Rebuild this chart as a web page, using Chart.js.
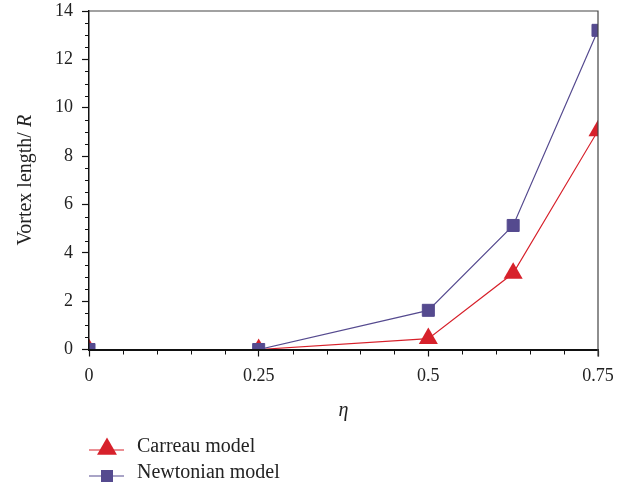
<!DOCTYPE html>
<html>
<head>
<meta charset="utf-8">
<script src="https://cdn.jsdelivr.net/npm/chart.js@4.4.0/dist/chart.umd.min.js"></script>
<style>
  html, body { margin: 0; padding: 0; background: #fff; }
  #wrap { width: 634px; height: 487px; }
</style>
</head>
<body>
<div id="wrap"><canvas id="chart" width="634" height="487"></canvas></div>
<script>
// values
const etaValues = [0, 0.25, 0.5, 0.625, 0.75]
const carreauLength = [0, 0, 0.45, 3.15, 9.05]
const newtonianLength = [0, 0, 1.62, 5.13, 13.2]
const seriesNames = ['Carreau model', 'Newtonian model']
const xTickLabels = ['0', '0.25', '0.5', '0.75']

const red = '#d7212b'
const purple = '#554a8f'
const serif = "'Liberation Serif', 'DejaVu Serif', serif"

const toPoints = (ys) => etaValues.map((x, i) => ({ x: x, y: ys[i] }))

// minor ticks, top/right box, y title and legend
const extras = {
    id: 'extras',
    afterDraw(chart) {
        const { ctx, chartArea: a, scales } = chart
        const xs = scales.x, ys = scales.y
        ctx.save()
        ctx.strokeStyle = '#111'
        ctx.lineWidth = 1
        for (let i = 0; i <= 15; i++) {
            if (i % 5 === 0) continue
            const px = Math.round(xs.getPixelForValue(i * 0.05)) + 0.5
            ctx.beginPath(); ctx.moveTo(px, a.bottom); ctx.lineTo(px, a.bottom + 5); ctx.stroke()
        }
        for (let i = 0; i <= 28; i++) {
            if (i % 4 === 0) continue
            const py = Math.round(ys.getPixelForValue(i * 0.5)) + 0.5
            ctx.beginPath(); ctx.moveTo(a.left - 4, py); ctx.lineTo(a.left, py); ctx.stroke()
        }
        // box
        ctx.strokeStyle = '#444'
        ctx.lineWidth = 1.2
        ctx.beginPath()
        ctx.moveTo(a.left, a.top); ctx.lineTo(a.right, a.top); ctx.lineTo(a.right, a.bottom + 7)
        ctx.stroke()

        // y title
        ctx.fillStyle = '#222'
        ctx.textBaseline = 'alphabetic'
        const t1 = 'Vortex length/ ', t2 = 'R'
        ctx.font = '20px ' + serif
        const w1 = ctx.measureText(t1).width
        ctx.font = 'italic 20px ' + serif
        const w2 = ctx.measureText(t2).width
        ctx.translate(31, (a.top + a.bottom) / 2)
        ctx.rotate(-Math.PI / 2)
        ctx.font = '20px ' + serif
        ctx.textAlign = 'left'
        ctx.fillText(t1, -(w1 + w2) / 2, 0)
        ctx.font = 'italic 20px ' + serif
        ctx.fillText(t2, -(w1 + w2) / 2 + w1, 0)
        ctx.restore()

        // legend
        ctx.save()
        const rows = [
            { name: seriesNames[0], color: red, y: 447, shape: 'tri' },
            { name: seriesNames[1], color: purple, y: 473, shape: 'sq' }
        ]
        rows.forEach(r => {
            ctx.strokeStyle = r.color
            ctx.fillStyle = r.color
            ctx.lineWidth = 1.2
            ctx.beginPath(); ctx.moveTo(89, r.y + 3); ctx.lineTo(124, r.y + 3); ctx.stroke()
            const cx = 107
            if (r.shape === 'tri') {
                const rad = 11.5
                const cy = r.y + 2
                ctx.beginPath()
                ctx.moveTo(cx, cy - rad)
                ctx.lineTo(cx + rad * 0.866, cy + rad / 2)
                ctx.lineTo(cx - rad * 0.866, cy + rad / 2)
                ctx.closePath(); ctx.fill()
            } else {
                ctx.fillRect(cx - 6, r.y - 3, 12, 12)
            }
            ctx.fillStyle = '#222'
            ctx.font = '20px ' + serif
            ctx.textAlign = 'left'
            ctx.textBaseline = 'middle'
            ctx.fillText(r.name, 137, r.y)
        })
        ctx.restore()
    }
}

new Chart(document.getElementById('chart').getContext('2d'), {
    type: 'scatter',
    data: {
        datasets: [{
            label: seriesNames[0],
            data: toPoints(carreauLength),
            showLine: true,
            borderColor: red,
            backgroundColor: red,
            borderWidth: 1.2,
            pointStyle: 'triangle',
            pointRadius: 11,
            pointBorderWidth: 0,
            clip: 0,
            order: 1
        }, {
            label: seriesNames[1],
            data: toPoints(newtonianLength),
            showLine: true,
            borderColor: purple,
            backgroundColor: purple,
            borderWidth: 1.2,
            pointStyle: 'rect',
            pointRadius: 8.5,
            pointBorderWidth: 1,
            clip: 0,
            order: 0
        }]
    },
    options: {
        responsive: false,
        animation: false,
        layout: { padding: { top: 11, right: 36, left: 0, bottom: 0 } },
        plugins: {
            legend: { display: false },
            tooltip: { enabled: false }
        },
        scales: {
            x: {
                type: 'linear',
                min: 0,
                max: 0.75,
                afterFit: (s) => { s.height = 137.5; s.paddingLeft = 0; s.paddingRight = 0 },
                ticks: {
                    stepSize: 0.25,
                    color: '#222',
                    padding: 9,
                    maxRotation: 0,
                    font: { family: serif, size: 18 },
                    callback: (v) => xTickLabels[Math.round(v / 0.25)]
                },
                grid: { drawOnChartArea: false, tickLength: 7, tickColor: '#111', tickWidth: 1.2 },
                border: { display: true, color: '#111', width: 2, z: 1 },
                title: {
                    display: true,
                    text: 'η',
                    color: '#222',
                    font: { family: serif, size: 20, style: 'italic' },
                    padding: { top: 0, bottom: 64 }
                }
            },
            y: {
                min: 0,
                max: 14,
                afterFit: (s) => { s.width = 89; s.paddingTop = 0; s.paddingBottom = 0 },
                ticks: {
                    stepSize: 2,
                    color: '#222',
                    padding: 9,
                    font: { family: serif, size: 18 }
                },
                grid: { drawOnChartArea: false, tickLength: 7, tickColor: '#111', tickWidth: 1.2 },
                border: { display: true, color: '#111', width: 1.5, z: 1 }
            }
        }
    },
    plugins: [extras]
})
</script>
</body>
</html>
